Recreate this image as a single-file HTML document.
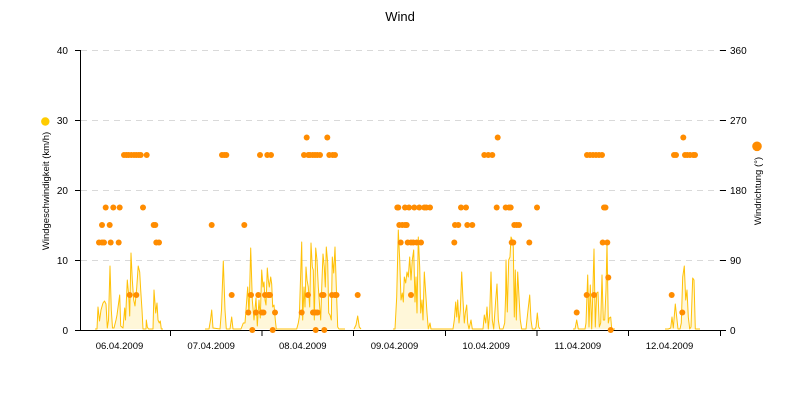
<!DOCTYPE html>
<html><head><meta charset="utf-8"><style>
html,body{margin:0;padding:0;background:#fff;}
svg{display:block;font-family:"Liberation Sans",Arial,sans-serif;}
</style></head><body>
<svg width="800" height="400" viewBox="0 0 800 400" xmlns="http://www.w3.org/2000/svg">
<rect width="800" height="400" fill="#fff"/>
<text x="400" y="21" font-size="13" text-anchor="middle" fill="#000">Wind</text>
<!-- grid -->
<g stroke="#d9d9d9" stroke-width="1" stroke-dasharray="6,5">
<line x1="81" y1="50.5" x2="720" y2="50.5"/>
<line x1="81" y1="120.5" x2="720" y2="120.5"/>
<line x1="81" y1="190.5" x2="720" y2="190.5"/>
<line x1="81" y1="260.5" x2="720" y2="260.5"/>
</g>
<!-- wind speed series -->
<g fill="rgba(255,200,0,0.15)" stroke="#ffc107" stroke-width="1" stroke-linejoin="round">
<polyline points="95,329 97,329 98,307 99.5,321 101,310 103,303 104.5,301 106,304 107.3,328 108.5,320 110,266 111.3,310 112.5,328 114,328 116,320 117,315 119.7,295 120.7,326 123,328 124.7,308 125.5,320 127.3,280 128.7,295 129.7,316 131,253 132.3,280 133.7,300 135,306 136.7,288 138.2,266 139.7,272 140.7,290 142,310 143,329 146,329 146.3,320 147.3,327 148.5,329 153,329 154,290 155.7,313 157,303 158,320 159.3,323 160.3,321 161.3,329 163,329"/>
<polyline points="205,329 209,329 210.5,320 211.7,310 213,328 220,329 221.5,310 223.3,261 225,310 226.3,329 230,329 231.7,317 233,329 241,329 243.3,323 245,323 247.7,287 249,315 250.7,248 252.3,300 254,320 256,298 257.3,326 259,300 260.3,318 261.7,270 263,287 264,282 265,300 266,305 267.3,268 268.3,280 269.3,287 270.7,277 271.7,284 272.7,307 274,305 275.3,320 276.3,329 296.7,329 298.3,323 299.3,317 301.7,242 302.7,320 304,287 305,307 306,267 307,280 308.3,287 309.7,307 311,243 312.3,267 313.3,270 314.3,320 315.7,248 317,260 318.3,287 319.7,307 320.7,320 322,280 323,254 324.3,267 325.3,287 326.3,247 327.7,263 328.7,313 330,315 331.3,320 332.3,257 333.7,273 335,247 336.3,287 337.7,327 339,329 345,329"/>
<polyline points="354,329 356,325 357.7,316 359.3,327 361,329"/>
<polyline points="393,329 395,329 396.7,297 398.3,230 399.7,260 401,300 402.3,293 403.3,302 404.3,277 405.7,283 407,272 408.3,277 409.7,257 411,280 412.3,260 413.7,250 415,302 416,277 417,313 418.3,237 419.7,267 420.7,313 422,300 423,320 424.3,272 425.7,293 427,313 428.3,329 430,323 431,329 453,329 454.3,320 455.7,302 456.7,317 457.7,300 459,323 460.3,310 461.7,272 463,300 464.3,323 465.3,313 466.7,305 467.7,323 469,329 471,320 472.3,329 483,329 484.3,315 485.7,323 487,307 488.3,329 489.7,313 491,272 492.3,320 493.7,329 495.7,300 497,284 498.3,320 499.7,329 503,329 504.7,323 505.7,293 506,260 507.3,312 508.7,260 510,257 511,237 512.3,240 513.3,247 514.3,317 515.3,270 516.3,320 517.7,272 519,297 520.3,320 521.7,329 526,329 527.7,313 529.7,295 531,320 532.3,329 535,329 536,327 537.3,313 538.7,327 540,329"/>
<polyline points="573,329 575,329 576.7,320 578.3,329 585,329 586,323 587.7,275 589,327 590.3,285 591.7,329 592.7,297 594,249 595.3,327 596.7,293 598,292 599.3,327 600.7,323 602,275 603.3,320 604.7,320 606,290 607,243 608.3,323 609.3,318 610.7,317 611.7,329 615,329"/>
<polyline points="665,329 668.3,329 670.7,328 672,317 673.3,328 675.3,304 676.7,317 678,329 680,329 681.3,323 682.7,277 684.3,266 685.7,300 687,290 688.3,317 689.7,329 691,327 692.7,278 694,280 695.3,329 700,329"/>
</g>
<!-- axes -->
<g stroke="#000" stroke-width="1">
<line x1="80.5" y1="50" x2="80.5" y2="331"/>
<line x1="75" y1="330.5" x2="726" y2="330.5"/>
<line x1="75" y1="50.5" x2="80" y2="50.5"/>
<line x1="75" y1="120.5" x2="80" y2="120.5"/>
<line x1="75" y1="190.5" x2="80" y2="190.5"/>
<line x1="75" y1="260.5" x2="80" y2="260.5"/>
<line x1="720" y1="50.5" x2="726" y2="50.5"/>
<line x1="720" y1="120.5" x2="726" y2="120.5"/>
<line x1="720" y1="190.5" x2="726" y2="190.5"/>
<line x1="720" y1="260.5" x2="726" y2="260.5"/>
<line x1="170.5" y1="330" x2="170.5" y2="336"/>
<line x1="262" y1="330" x2="262" y2="336"/>
<line x1="353.5" y1="330" x2="353.5" y2="336"/>
<line x1="445.5" y1="330" x2="445.5" y2="336"/>
<line x1="537" y1="330" x2="537" y2="336"/>
<line x1="628.5" y1="330" x2="628.5" y2="336"/>
<line x1="720.5" y1="330" x2="720.5" y2="336"/>
</g>
<!-- direction dots -->
<g fill="#ff8c00">
<circle cx="124" cy="155" r="3"/><circle cx="126.3" cy="155" r="3"/><circle cx="128.7" cy="155" r="3"/><circle cx="131.3" cy="155" r="3"/><circle cx="134" cy="155" r="3"/><circle cx="136.3" cy="155" r="3"/><circle cx="138.7" cy="155" r="3"/><circle cx="140.7" cy="155" r="3"/><circle cx="146.7" cy="155" r="3"/>
<circle cx="222" cy="155" r="3"/><circle cx="224.3" cy="155" r="3"/><circle cx="226.3" cy="155" r="3"/>
<circle cx="260" cy="155" r="3"/><circle cx="267.3" cy="155" r="3"/><circle cx="271" cy="155" r="3"/>
<circle cx="304" cy="155" r="3"/><circle cx="308.3" cy="155" r="3"/><circle cx="310" cy="155" r="3"/><circle cx="312.7" cy="155" r="3"/><circle cx="315" cy="155" r="3"/><circle cx="317.3" cy="155" r="3"/><circle cx="320" cy="155" r="3"/><circle cx="329.3" cy="155" r="3"/><circle cx="332.7" cy="155" r="3"/><circle cx="335" cy="155" r="3"/>
<circle cx="484.3" cy="155" r="3"/><circle cx="488.3" cy="155" r="3"/><circle cx="492.3" cy="155" r="3"/>
<circle cx="587" cy="155" r="3"/><circle cx="590" cy="155" r="3"/><circle cx="593" cy="155" r="3"/><circle cx="596" cy="155" r="3"/><circle cx="599" cy="155" r="3"/><circle cx="602" cy="155" r="3"/>
<circle cx="674" cy="155" r="3"/><circle cx="676" cy="155" r="3"/><circle cx="685" cy="155" r="3"/><circle cx="687.3" cy="155" r="3"/><circle cx="690" cy="155" r="3"/><circle cx="693.3" cy="155" r="3"/><circle cx="695" cy="155" r="3"/>
<circle cx="306.7" cy="137.5" r="3"/><circle cx="327.3" cy="137.5" r="3"/><circle cx="497.7" cy="137.5" r="3"/><circle cx="683.3" cy="137.5" r="3"/>
<circle cx="105.7" cy="207.5" r="3"/><circle cx="113.3" cy="207.5" r="3"/><circle cx="119.7" cy="207.5" r="3"/><circle cx="143" cy="207.5" r="3"/>
<circle cx="397.3" cy="207.5" r="3"/><circle cx="398.3" cy="207.5" r="3"/><circle cx="405" cy="207.5" r="3"/><circle cx="409" cy="207.5" r="3"/><circle cx="414.3" cy="207.5" r="3"/><circle cx="419.3" cy="207.5" r="3"/><circle cx="424.3" cy="207.5" r="3"/><circle cx="426.3" cy="207.5" r="3"/><circle cx="430" cy="207.5" r="3"/>
<circle cx="461" cy="207.5" r="3"/><circle cx="466" cy="207.5" r="3"/><circle cx="496.7" cy="207.5" r="3"/><circle cx="505.7" cy="207.5" r="3"/><circle cx="509" cy="207.5" r="3"/><circle cx="510.7" cy="207.5" r="3"/><circle cx="537" cy="207.5" r="3"/>
<circle cx="604" cy="207.5" r="3"/><circle cx="605.5" cy="207.5" r="3"/>
<circle cx="102" cy="225" r="3"/><circle cx="109.7" cy="225" r="3"/><circle cx="153.7" cy="225" r="3"/><circle cx="155.3" cy="225" r="3"/>
<circle cx="211.7" cy="225" r="3"/><circle cx="244.3" cy="225" r="3"/>
<circle cx="399.3" cy="225" r="3"/><circle cx="402.3" cy="225" r="3"/><circle cx="405" cy="225" r="3"/><circle cx="406.7" cy="225" r="3"/>
<circle cx="455" cy="225" r="3"/><circle cx="458.3" cy="225" r="3"/><circle cx="467.3" cy="225" r="3"/><circle cx="472.3" cy="225" r="3"/>
<circle cx="514.3" cy="225" r="3"/><circle cx="516.7" cy="225" r="3"/><circle cx="519" cy="225" r="3"/>
<circle cx="99" cy="242.5" r="3"/><circle cx="102" cy="242.5" r="3"/><circle cx="104" cy="242.5" r="3"/><circle cx="110.7" cy="242.5" r="3"/><circle cx="118.7" cy="242.5" r="3"/><circle cx="156.3" cy="242.5" r="3"/><circle cx="159" cy="242.5" r="3"/>
<circle cx="400.7" cy="242.5" r="3"/><circle cx="407.7" cy="242.5" r="3"/><circle cx="411" cy="242.5" r="3"/><circle cx="413.3" cy="242.5" r="3"/><circle cx="416.7" cy="242.5" r="3"/><circle cx="421" cy="242.5" r="3"/>
<circle cx="454.3" cy="242.5" r="3"/><circle cx="511.7" cy="242.5" r="3"/><circle cx="513.3" cy="242.5" r="3"/><circle cx="529.3" cy="242.5" r="3"/>
<circle cx="602.7" cy="242.5" r="3"/><circle cx="607.3" cy="242.5" r="3"/>
<circle cx="608.3" cy="277.5" r="3"/>
<circle cx="129.7" cy="295" r="3"/><circle cx="136.3" cy="295" r="3"/><circle cx="231.7" cy="295" r="3"/>
<circle cx="251" cy="295" r="3"/><circle cx="258.3" cy="295" r="3"/><circle cx="265" cy="295" r="3"/><circle cx="268.3" cy="295" r="3"/><circle cx="270" cy="295" r="3"/>
<circle cx="308" cy="295" r="3"/><circle cx="322" cy="295" r="3"/><circle cx="323.5" cy="295" r="3"/><circle cx="332" cy="295" r="3"/><circle cx="335" cy="295" r="3"/><circle cx="336.5" cy="295" r="3"/>
<circle cx="357.7" cy="295" r="3"/><circle cx="411" cy="295" r="3"/><circle cx="586.7" cy="295" r="3"/><circle cx="594" cy="295" r="3"/><circle cx="671.7" cy="295" r="3"/>
<circle cx="248.3" cy="312.5" r="3"/><circle cx="256" cy="312.5" r="3"/><circle cx="261.7" cy="312.5" r="3"/><circle cx="263.5" cy="312.5" r="3"/><circle cx="275" cy="312.5" r="3"/>
<circle cx="301.7" cy="312.5" r="3"/><circle cx="313" cy="312.5" r="3"/><circle cx="315.5" cy="312.5" r="3"/><circle cx="317.5" cy="312.5" r="3"/>
<circle cx="576.7" cy="312.5" r="3"/><circle cx="682.3" cy="312.5" r="3"/>
<circle cx="252.3" cy="330" r="3"/><circle cx="272.7" cy="330" r="3"/><circle cx="315.7" cy="330" r="3"/><circle cx="324.3" cy="330" r="3"/><circle cx="610.7" cy="330" r="3"/>
</g>
<!-- tick labels -->
<g font-size="10" fill="#000">
<g text-anchor="end">
<text x="68" y="54">40</text>
<text x="68" y="124">30</text>
<text x="68" y="194">20</text>
<text x="68" y="264">10</text>
<text x="68" y="334">0</text>
</g>
<g text-anchor="start">
<text x="730" y="54">360</text>
<text x="730" y="124">270</text>
<text x="730" y="194">180</text>
<text x="730" y="264">90</text>
<text x="730" y="334">0</text>
</g>
</g>
<g font-size="9.5" fill="#000" text-anchor="middle">
<text x="119.5" y="349">06.04.2009</text>
<text x="211.2" y="349">07.04.2009</text>
<text x="302.8" y="349">08.04.2009</text>
<text x="394.5" y="349">09.04.2009</text>
<text x="486.2" y="349">10.04.2009</text>
<text x="577.8" y="349">11.04.2009</text>
<text x="669.5" y="349">12.04.2009</text>
</g>
<!-- axis titles -->
<circle cx="45.3" cy="121.5" r="4.2" fill="#ffcc00"/>
<text transform="translate(49,191) rotate(-90)" font-size="9.5" text-anchor="middle" fill="#000">Windgeschwindigkeit (km/h)</text>
<circle cx="757" cy="146.3" r="4.8" fill="#ff8c00"/>
<text transform="translate(761,191) rotate(-90)" font-size="9.5" text-anchor="middle" fill="#000">Windrichtung (°)</text>
</svg>
</body></html>
